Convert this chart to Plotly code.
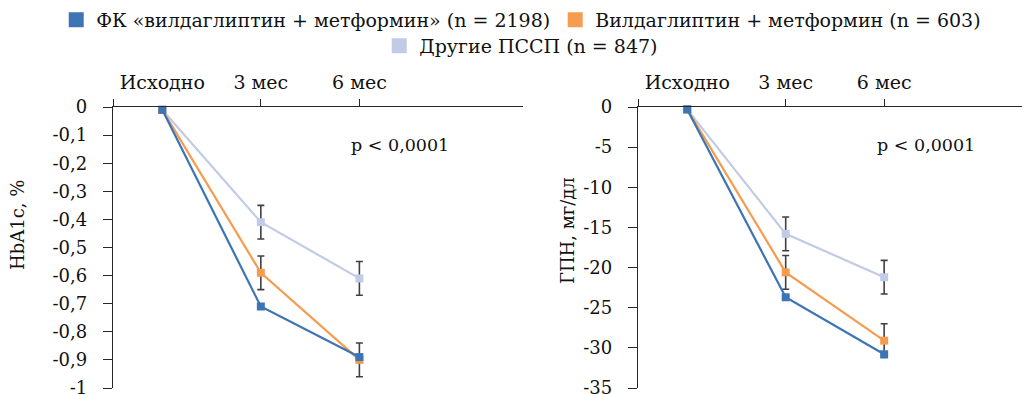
import plotly.graph_objects as go

# ---------------- data ----------------
categories = ["Исходно", "3 мес", "6 мес"]
series_names = [
    "ФК «вилдаглиптин + метформин» (n = 2198)",
    "Вилдаглиптин + метформин (n = 603)",
    "Другие ПССП (n = 847)",
]

hba1c_fk = [-0.01, -0.71, -0.89]
hba1c_vm = [-0.01, -0.59, -0.90]
hba1c_other = [-0.01, -0.41, -0.61]
hba1c_err_vm = [None, 0.06, 0.06]
hba1c_err_other = [None, 0.06, 0.06]

gpn_fk = [-0.3, -23.7, -30.8]
gpn_vm = [-0.3, -20.6, -29.1]
gpn_other = [-0.3, -15.8, -21.2]
gpn_err_vm = [None, 2.1, 2.1]
gpn_err_other = [None, 2.1, 2.1]

hba1c_ticks = [0, -0.1, -0.2, -0.3, -0.4, -0.5, -0.6, -0.7, -0.8, -0.9, -1]
gpn_ticks = [0, -5, -10, -15, -20, -25, -30, -35]

p_text = "p < 0,0001"
left_title = "HbA1c, %"
right_title = "ГПН, мг/дл"

# ---------------- style ----------------
colors = ["#3C74B6", "#F69C4F", "#C1CBE5"]
FONT = "DejaVu Serif"
AX = "#262626"
ERR = "#404040"
TXT = "#111111"

x_pos = list(range(len(categories)))


def fmt(v):
    return ("%g" % v).replace(".", ",")


fig = go.Figure()

panels = [
    ("x", "y", [hba1c_fk, hba1c_vm, hba1c_other], [None, hba1c_err_vm, hba1c_err_other]),
    ("x2", "y2", [gpn_fk, gpn_vm, gpn_other], [None, gpn_err_vm, gpn_err_other]),
]

# draw order: light first, blue last (on top)
for xa, ya, vals, errs in panels:
    for i in [2, 1, 0]:
        tr = dict(
            x=x_pos, y=vals[i], xaxis=xa, yaxis=ya, mode="lines+markers",
            line=dict(color=colors[i], width=2.2),
            marker=dict(symbol="square", size=8, color=colors[i]),
            showlegend=False, name=series_names[i], cliponaxis=False,
            hoverinfo="skip",
        )
        if errs[i] is not None:
            tr["error_y"] = dict(type="data", array=errs[i], visible=True,
                                 color=ERR, thickness=1.6, width=3.5)
        fig.add_trace(go.Scatter(**tr))

# legend entries (square swatches)
for i in range(3):
    fig.add_trace(go.Scatter(
        x=[None], y=[None], mode="markers", name=series_names[i],
        marker=dict(symbol="square", size=15, color=colors[i]),
        legend="legend" if i < 2 else "legend2", showlegend=True,
    ))

xdom_l = [113 / 1022, 523 / 1022]
xdom_r = [638 / 1022, 1.0]
ydom = [(394 - 388) / 394, (394 - 107) / 394]


def xaxis_cfg(dom, rng, anchor):
    return dict(
        domain=dom, range=rng, anchor=anchor, side="top", automargin=False,
        tickmode="array", tickvals=x_pos, ticktext=categories,
        ticks="", showline=True, linecolor=AX, linewidth=1.4,
        showgrid=False, zeroline=False, ticklabelstandoff=9,
        ticklabeloverflow="allow",
        tickfont=dict(family=FONT, size=19, color=TXT),
        minor=dict(tickmode="array", tickvals=[rng[0], 1, 2], ticks="outside",
                   ticklen=7, tickwidth=1.4, tickcolor=AX, showgrid=False),
    )


def yaxis_cfg(rng, ticks, anchor):
    return dict(
        domain=ydom, range=rng, anchor=anchor, automargin=False,
        tickmode="array", tickvals=ticks, ticktext=[fmt(t) for t in ticks],
        ticks="outside", ticklen=9, tickwidth=1.4, tickcolor=AX,
        showline=True, linecolor=AX, linewidth=1.4,
        showgrid=False, zeroline=False, ticklabelstandoff=12,
        ticklabeloverflow="allow",
        tickfont=dict(family=FONT, size=18, color=TXT),
    )


def annot(text, px, py, angle=0, size=18):
    return dict(text=text, x=px / 1022, y=1 - py / 394, xref="paper", yref="paper",
                textangle=angle, showarrow=False,
                font=dict(family=FONT, size=size, color=TXT),
                xanchor="center", yanchor="middle")


fig.update_layout(
    width=1022, height=394, autosize=False,
    margin=dict(l=0, r=0, t=0, b=0, pad=0),
    paper_bgcolor="white", plot_bgcolor="white",
    font=dict(family=FONT, size=18, color=TXT),
    hovermode=False,
    xaxis=xaxis_cfg(xdom_l, [-0.5, 3.66], "y"),
    yaxis=yaxis_cfg([-1, 0], hba1c_ticks, "x"),
    xaxis2=xaxis_cfg(xdom_r, [-0.5, 3.40], "y2"),
    yaxis2=yaxis_cfg([-35, 0], gpn_ticks, "x2"),
    legend=dict(orientation="h", x=0.51, xanchor="center", y=1 - 20 / 394,
                yanchor="middle", font=dict(family=FONT, size=19, color=TXT),
                bgcolor="rgba(0,0,0,0)", itemclick=False, itemdoubleclick=False),
    legend2=dict(orientation="h", x=0.51, xanchor="center", y=1 - 46 / 394,
                 yanchor="middle", font=dict(family=FONT, size=19, color=TXT),
                 bgcolor="rgba(0,0,0,0)", itemclick=False, itemdoubleclick=False),
    annotations=[
        annot(left_title, 17, 225, -90),
        annot(right_title, 567, 231, -90),
        annot(p_text, 400, 145, 0, 17.5),
        annot(p_text, 926, 145, 0, 17.5),
    ],
)

fig.write_html("out.html", config={"displayModeBar": False},
               post_script="document.body.style.margin='0';")
